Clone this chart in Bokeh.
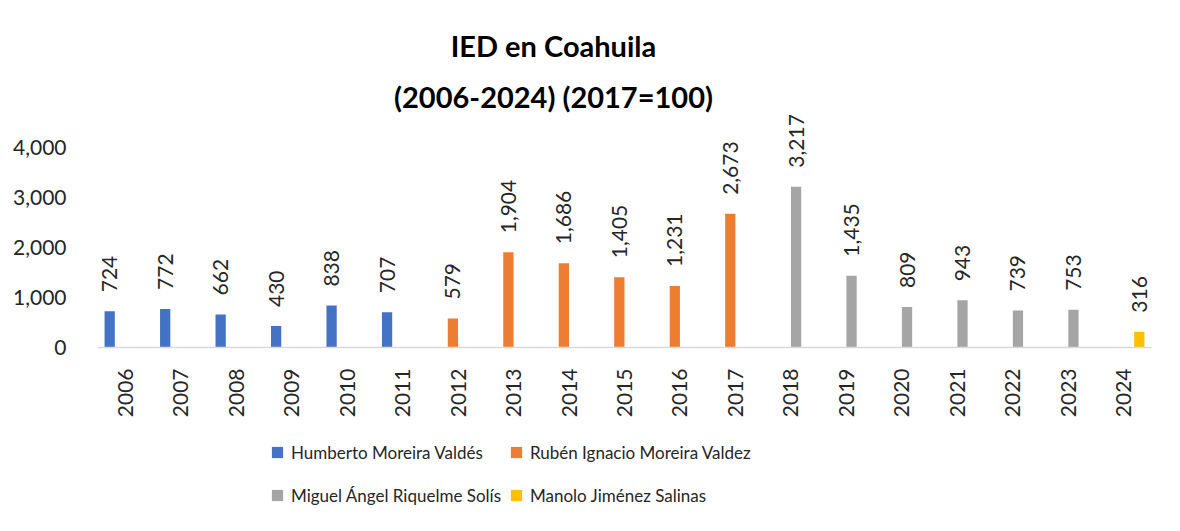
import math
from bokeh.plotting import figure
from bokeh.layouts import column
from bokeh.models import (ColumnDataSource, FactorRange, Range1d, FixedTicker, Legend,
                          LegendItem, Label, NumeralTickFormatter)
from bokeh.transform import dodge
from bokeh.core.properties import value
from bokeh.embed import file_html
from bokeh.resources import INLINE

years = [str(y) for y in range(2006, 2025)]

hum_years = ["2006", "2007", "2008", "2009", "2010", "2011"]
hum_vals = [724, 772, 662, 430, 838, 707]
rub_years = ["2012", "2013", "2014", "2015", "2016", "2017"]
rub_vals = [579, 1904, 1686, 1405, 1231, 2673]
mig_years = ["2018", "2019", "2020", "2021", "2022", "2023"]
mig_vals = [3217, 1435, 809, 943, 739, 753]
man_years = ["2024"]
man_vals = [316]

series_names = ["Humberto Moreira Valdés", "Rubén Ignacio Moreira Valdez",
                "Miguel Ángel Riquelme Solís", "Manolo Jiménez Salinas"]
colors = ["#4472C4", "#ED7D31", "#A5A5A5", "#FFC000"]
offsets = [-0.28, -0.093, 0.093, 0.28]

FONT = "Lato"
TXT = "#262626"

p = figure(width=1164, height=420, x_range=FactorRange(*years), y_range=Range1d(0, 6740),
           output_backend="svg", toolbar_location=None,
           min_border_left=97, min_border_right=13, min_border_top=10, min_border_bottom=73)
p.outline_line_color = None
p.xgrid.grid_line_color = None
p.ygrid.grid_line_color = None
p.background_fill_color = "white"
p.border_fill_color = "white"

# axes
p.yaxis.ticker = FixedTicker(ticks=[0, 1000, 2000, 3000, 4000])
p.yaxis.formatter = NumeralTickFormatter(format="0,0")
p.yaxis.axis_line_color = None
p.yaxis.major_tick_line_color = None
p.yaxis.minor_tick_line_color = None
p.yaxis.major_label_standoff = 25
p.yaxis.major_label_text_font = FONT
p.yaxis.major_label_text_font_size = "21px"
p.yaxis.major_label_text_color = TXT

p.xaxis.axis_line_color = "#d9d9d9"
p.xaxis.axis_line_width = 1.5
p.xaxis.major_tick_line_color = None
p.xaxis.minor_tick_line_color = None
p.xaxis.major_label_orientation = math.pi / 2
p.xaxis.major_label_standoff = 15
p.xaxis.major_label_text_font = FONT
p.xaxis.major_label_text_font_size = "21px"
p.xaxis.major_label_text_color = TXT

# legend figure
p2 = figure(width=1164, height=95, x_range=Range1d(0, 1), y_range=Range1d(0, 1),
            output_backend="svg", toolbar_location=None,
            min_border_left=0, min_border_right=0, min_border_top=0, min_border_bottom=0)
p2.axis.visible = False
p2.grid.visible = False
p2.outline_line_color = None
p2.background_fill_color = "white"
p2.border_fill_color = "white"

leg_items = {}
for yrs, vals, name, col, off in zip([hum_years, rub_years, mig_years, man_years],
                                     [hum_vals, rub_vals, mig_vals, man_vals],
                                     series_names, colors, offsets):
    src = ColumnDataSource(dict(x=yrs, v=vals, lab=[f"{v:,}" for v in vals]))
    p.vbar(x=dodge("x", off, range=p.x_range), top="v", width=0.185, source=src,
           fill_color=col, line_color=None)
    p.text(x=dodge("x", off, range=p.x_range), y="v", text="lab", source=src,
           angle=math.pi / 2, text_align="left", text_baseline="middle", y_offset=-19,
           text_font=value(FONT), text_font_size="21px", text_color=TXT)
    dummy = p2.scatter(x=[5], y=[5], marker="square", size=11, fill_color=col, line_color=None)
    leg_items[name] = LegendItem(label=name, renderers=[dummy])


def make_legend(names, x):
    return Legend(items=[leg_items[n] for n in names], location=(x, 6),
                  glyph_width=28, glyph_height=28, label_standoff=0,
                  label_text_font=FONT, label_text_font_size="17px", label_text_color=TXT,
                  label_height=28, spacing=15, padding=0, margin=0,
                  border_line_color=None, background_fill_alpha=0)


p2.add_layout(make_legend([series_names[0], series_names[2]], 166), "center")
p2.add_layout(make_legend([series_names[1], series_names[3]], 405), "center")

p.add_layout(Label(x=456, y=302, x_units="screen", y_units="screen", text="IED en Coahuila",
                   text_align="center", text_baseline="middle", text_font=FONT,
                   text_font_size="29px", text_font_style="bold", text_color="black"))
p.add_layout(Label(x=456, y=251, x_units="screen", y_units="screen", text="(2006-2024) (2017=100)",
                   text_align="center", text_baseline="middle", text_font=FONT,
                   text_font_size="29px", text_font_style="bold", text_color="black"))

layout = column(p, p2, spacing=0)
open("out.html", "w").write(file_html(layout, INLINE))
